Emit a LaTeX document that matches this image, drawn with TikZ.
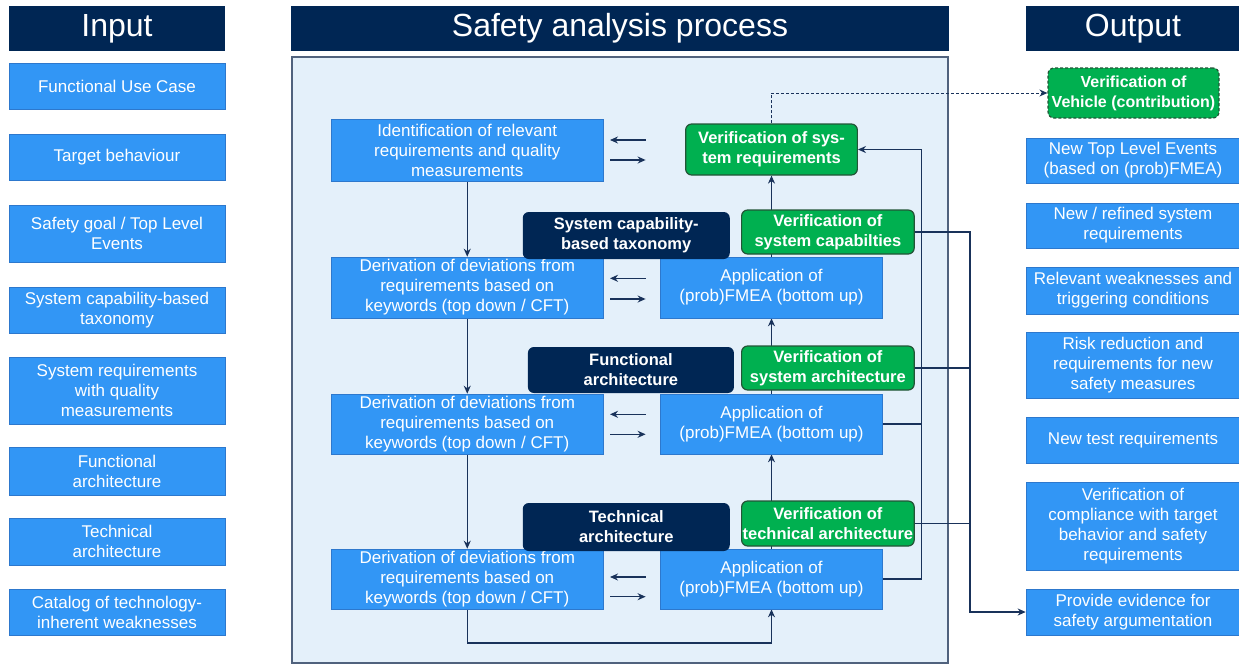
\documentclass[tikz,border=0pt]{standalone}
\usepackage{fontspec}
\setmainfont{Liberation Sans}
\usetikzlibrary{arrows.meta}
\definecolor{navy}{RGB}{0,38,84}
\definecolor{boxblue}{RGB}{50,150,245}
\definecolor{boxedge}{RGB}{45,120,205}
\definecolor{vgreen}{RGB}{0,176,80}
\definecolor{vgreenedge}{RGB}{35,85,55}
\definecolor{panelfill}{RGB}{228,240,250}
\definecolor{paneledge}{RGB}{80,98,125}
\definecolor{wire}{RGB}{25,50,90}
\pgfdeclarelayer{panel}
\pgfdeclarelayer{wires}
\pgfsetlayers{panel,wires,main}
\tikzset{
  basebox/.style={rectangle, inner sep=0pt, align=center, text=white},
  bluebox/.style={basebox, fill=boxblue, draw=boxedge, line width=0.6pt,
    font=\fontsize{17}{20}\selectfont},
  greenbox/.style={basebox, fill=vgreen, draw=vgreenedge, line width=1.2pt,
    rounded corners=6pt, font=\fontsize{16.5}{20}\selectfont\bfseries},
  navybox/.style={basebox, fill=navy, rounded corners=6pt,
    font=\fontsize{16.5}{20}\selectfont\bfseries},
  header/.style={basebox, fill=navy, font=\fontsize{32}{36}\selectfont},
  wireline/.style={draw=wire, line width=1.3pt},
  arrowline/.style={wireline, -{Stealth[length=8pt,width=7pt]}},
}
\begin{document}
\begin{tikzpicture}[x=1pt, y=-1pt]
\useasboundingbox (0,0) rectangle (1239,664);

% panel behind the process column
\begin{pgfonlayer}{panel}
  \draw[fill=panelfill, draw=paneledge, line width=1.3pt] (292,57) rectangle (948,663);
\end{pgfonlayer}

% headers
\node[header, minimum width=216pt, minimum height=45pt] (hin) at (117,28.5) {Input};
\node[header, minimum width=658pt, minimum height=45pt] (hproc) at (620,28.5) {Safety analysis process};
\node[header, minimum width=214pt, minimum height=45pt] (hout) at (1133,28.5) {Output};

% input column
\node[bluebox, minimum width=216pt, minimum height=46pt] (in1) at (117,86) {Functional Use Case};
\node[bluebox, minimum width=216pt, minimum height=46pt] (in2) at (117,157) {Target behaviour};
\node[bluebox, minimum width=216pt, minimum height=57pt] (in3) at (117,233.5) {Safety goal / Top Level\\Events};
\node[bluebox, minimum width=216pt, minimum height=46pt] (in4) at (117,310) {System capability-based\\taxonomy};
\node[bluebox, minimum width=216pt, minimum height=67pt] (in5) at (117,390.5) {System requirements\\with quality\\measurements};
\node[bluebox, minimum width=216pt, minimum height=48pt] (in6) at (117,471) {Functional\\architecture};
\node[bluebox, minimum width=216pt, minimum height=47pt] (in7) at (117,541.5) {Technical\\architecture};
\node[bluebox, minimum width=216pt, minimum height=46pt] (in8) at (117,612) {Catalog of technology-\\inherent weaknesses};

% process column: top-down branch
\node[bluebox, minimum width=272.5pt, minimum height=62pt] (ident) at (467.25,150) {Identification of relevant\\requirements and quality\\measurements};
\node[bluebox, minimum width=272.5pt, minimum height=61pt] (der1) at (467.25,287.5) {Derivation of deviations from\\requirements based on\\keywords (top down / CFT)};
\node[bluebox, minimum width=272.5pt, minimum height=60pt] (der2) at (467.25,424) {Derivation of deviations from\\requirements based on\\keywords (top down / CFT)};
\node[bluebox, minimum width=272.5pt, minimum height=60pt] (der3) at (467.25,579) {Derivation of deviations from\\requirements based on\\keywords (top down / CFT)};

% process column: bottom-up branch
\node[bluebox, minimum width=222pt, minimum height=61pt] (fmea1) at (771.5,287.5) {Application of\\(prob)FMEA (bottom up)};
\node[bluebox, minimum width=222pt, minimum height=60pt] (fmea2) at (771.5,424) {Application of\\(prob)FMEA (bottom up)};
\node[bluebox, minimum width=222pt, minimum height=60pt] (fmea3) at (771.5,579) {Application of\\(prob)FMEA (bottom up)};

% verification steps
\node[greenbox, minimum width=171.7pt, minimum height=51pt] (vsr) at (771.5,149.5) {Verification of sys-\\tem requirements};
\node[greenbox, minimum width=172.6pt, minimum height=44pt] (vsc) at (827.9,232) {Verification of\\system capabilties};
\node[greenbox, minimum width=172.6pt, minimum height=44pt] (vsa) at (827.9,368) {Verification of\\system architecture};
\node[greenbox, minimum width=172.6pt, minimum height=45pt] (vta) at (827.9,523.5) {Verification of\\technical architecture};

% level labels
\node[navybox, minimum width=207pt, minimum height=47pt] (tax) at (626.25,235.5) {System capability-\\based taxonomy};
\node[navybox, minimum width=206pt, minimum height=46pt] (func) at (630.9,370) {Functional\\architecture};
\node[navybox, minimum width=207pt, minimum height=48pt] (tech) at (626.25,527) {Technical\\architecture};

% output column
\node[greenbox, dashed, dash pattern=on 3pt off 2pt, minimum width=171pt, minimum height=50pt,
  font=\fontsize{16}{20}\selectfont\bfseries] (veh) at (1133.5,93) {Verification of\\Vehicle (contribution)};
\node[bluebox, minimum width=214pt, minimum height=45pt] (out1) at (1133,160.5) {New Top Level Events\\(based on (prob)FMEA)};
\node[bluebox, minimum width=214pt, minimum height=45pt] (out2) at (1133,225.5) {New / refined system\\requirements};
\node[bluebox, minimum width=214pt, minimum height=47pt] (out3) at (1133,290.5) {Relevant weaknesses and\\triggering conditions};
\node[bluebox, minimum width=214pt, minimum height=66pt] (out4) at (1133,365) {Risk reduction and\\requirements for new\\safety measures};
\node[bluebox, minimum width=214pt, minimum height=46pt] (out5) at (1133,440) {New test requirements};
\node[bluebox, minimum width=214pt, minimum height=88pt] (out6) at (1133,526) {Verification of\\compliance with target\\behavior and safety\\requirements};
\node[bluebox, minimum width=214pt, minimum height=46pt] (out7) at (1133,612) {Provide evidence for\\safety argumentation};

% free ends of the exchange arrows and bus lines
\coordinate (x0a) at (645.6,140);   \coordinate (x0b) at (610,140);
\coordinate (x0c) at (610,160);     \coordinate (x0d) at (645.6,160);
\coordinate (x1a) at (645.6,278.3); \coordinate (x1b) at (610,278.3);
\coordinate (x1c) at (610,299);     \coordinate (x1d) at (645.6,299);
\coordinate (x2a) at (645.6,414.3); \coordinate (x2b) at (610,414.3);
\coordinate (x2c) at (610,434.3);   \coordinate (x2d) at (645.6,434.3);
\coordinate (x3a) at (645.6,577);   \coordinate (x3b) at (610,577);
\coordinate (x3c) at (610,596.7);   \coordinate (x3d) at (645.6,596.7);
\coordinate (loop) at (771.5,643);
\coordinate (busA) at (921.5,0);
\coordinate (busB) at (970,0);

\begin{pgfonlayer}{wires}
  % top-down chain
  \draw[arrowline] (ident.south) -- (der1.north);
  \draw[arrowline] (der1.south) -- (der2.north);
  \draw[arrowline] (der2.south) -- (der3.north);
  \draw[arrowline] (der3.south) |- (loop) -- (fmea3.south);
  % bottom-up chain
  \draw[arrowline] (fmea3.north) -- (fmea2.south);
  \draw[arrowline] (fmea2.north) -- (fmea1.south);
  \draw[arrowline] (fmea1.north) -- (vsr.south);
  % exchange between the branches
  \foreach \r in {0,1,2,3}{
    \draw[arrowline] (x\r a) -- (x\r b);
    \draw[arrowline] (x\r c) -- (x\r d);
  }
  % feedback to system requirements
  \draw[arrowline] (fmea3.east) -| (busA |- vsr.east) -- (vsr.east);
  \draw[wireline] (fmea2.east) -- (fmea2.east -| busA);
  % evidence bus
  \draw[arrowline] (vsc.east) -| (busB |- out7.west) -- (out7.west);
  \draw[wireline] (vsa.east) -- (vsa.east -| busB);
  \draw[wireline] (vta.east) -- (vta.east -| busB);
  % vehicle-level verification
  \draw[draw=wire, line width=1pt, dashed, dash pattern=on 3pt off 2pt,
    -{Stealth[length=8pt,width=7pt]}] (vsr.north) |- (veh.west);
\end{pgfonlayer}
\end{tikzpicture}
\end{document}
